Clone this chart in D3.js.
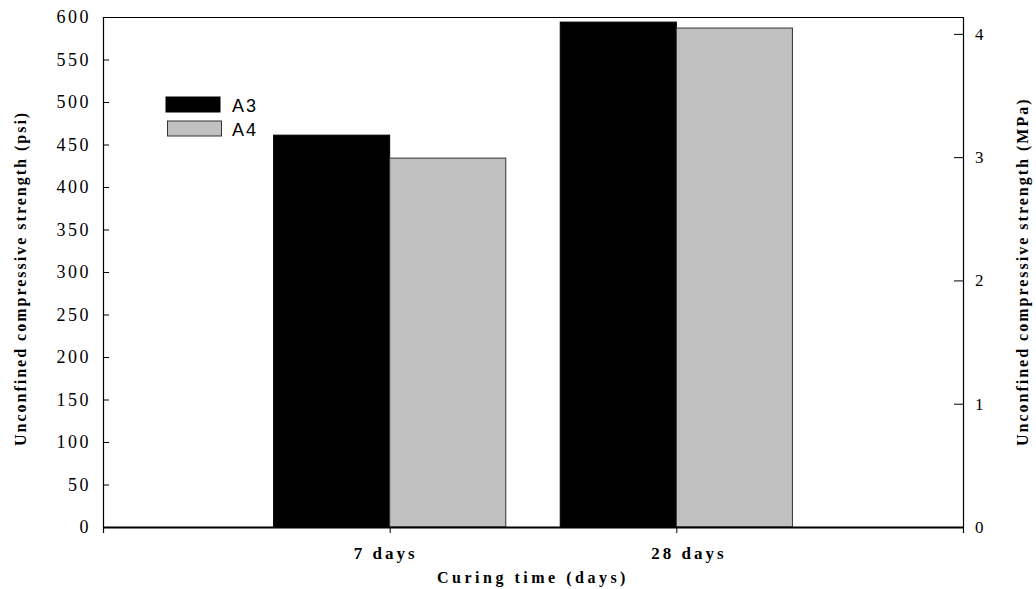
<!DOCTYPE html>
<html><head><meta charset="utf-8">
<script src="https://cdn.jsdelivr.net/npm/d3@7"></script>
<style>body{margin:0;background:#fff}svg{display:block}</style>
</head><body>
<svg id="c" width="1036" height="589"></svg>
<script>
const categories = ["7 days", "28 days"];
const seriesNames = ["A3", "A4"];
const a3Values = [461, 594];
const a4Values = [434, 587];
const psiTicks = [0, 50, 100, 150, 200, 250, 300, 350, 400, 450, 500, 550, 600];
const mpaTicks = [0, 1, 2, 3, 4];
const seriesColors = ["#000000", "#c0c0c0"];

const svg = d3.select("#c");
const L = 103, R = 963, T = 17, B = 527;
const x = d3.scaleLinear().domain([0, categories.length + 1]).range([L, R]);
const y = d3.scaleLinear().domain([0, 600]).range([B, T]);
const y2 = d3.scaleLinear().domain([0, 600 / 145.038]).range([B, T]);
const barW = 0.405;
const labelShift = [-4.5, 12];

// top border
svg.append("line").attr("x1", L).attr("x2", R).attr("y1", T + 0.5).attr("y2", T + 0.5)
  .attr("stroke", "#000").attr("stroke-width", 1);

// bars
const series = [a3Values, a4Values];
series.forEach((vals, s) => {
  svg.append("g").selectAll("rect").data(vals).join("rect")
    .attr("x", (d, i) => s === 0 ? x(i + 1 - barW) : x(i + 1))
    .attr("width", x(barW) - x(0))
    .attr("y", d => y(d))
    .attr("height", d => B - y(d))
    .attr("fill", seriesColors[s])
    .attr("stroke", s === 0 ? "#000" : "#333")
    .attr("stroke-width", 1);
});

// left axis
const gl = svg.append("g").attr("transform", `translate(${L},0)`)
  .call(d3.axisRight(y).tickValues(psiTicks).tickSize(6).tickFormat(d3.format("d")));
gl.select(".domain").remove();
gl.selectAll(".tick line").attr("stroke", "#000");
gl.selectAll(".tick text").attr("x", -12).attr("text-anchor", "end")
  .attr("font-family", "Liberation Serif").attr("font-size", 18)
  .attr("letter-spacing", 2.5).attr("fill", "#000").attr("dy", "0.32em");
svg.append("line").attr("x1", L + 0.5).attr("x2", L + 0.5).attr("y1", T).attr("y2", B + 6)
  .attr("stroke", "#000").attr("stroke-width", 1.2);

// right axis
const gr = svg.append("g").attr("transform", `translate(${R},0)`)
  .call(d3.axisLeft(y2).tickValues(mpaTicks).tickSize(9).tickFormat(d3.format("d")));
gr.select(".domain").remove();
gr.selectAll(".tick line").attr("stroke", "#000");
gr.selectAll(".tick text").attr("x", 12).attr("text-anchor", "start")
  .attr("font-family", "Liberation Serif").attr("font-size", 17).attr("fill", "#000").attr("dy", "0.32em");
svg.append("line").attr("x1", R + 0.5).attr("x2", R + 0.5).attr("y1", T).attr("y2", B + 6)
  .attr("stroke", "#000").attr("stroke-width", 1.2);

// bottom axis
const gb = svg.append("g").attr("transform", `translate(0,${B})`)
  .call(d3.axisBottom(x).tickValues(categories.map((c, i) => i + 1)).tickSize(6)
    .tickFormat((d) => categories[d - 1]));
gb.select(".domain").remove();
gb.selectAll(".tick line").attr("stroke", "#000");
gb.selectAll(".tick text").attr("y", 20).attr("dy", "0.71em").attr("dx", (d, i) => labelShift[i])
  .attr("font-family", "Liberation Serif").attr("font-size", 17).attr("font-weight", "bold")
  .attr("letter-spacing", 3).attr("fill", "#000");
svg.append("line").attr("x1", L).attr("x2", R + 1).attr("y1", B + 0.5).attr("y2", B + 0.5)
  .attr("stroke", "#000").attr("stroke-width", 2);

// axis titles
svg.append("text").attr("x", (L + R) / 2).attr("y", 583).attr("text-anchor", "middle")
  .attr("font-family", "Liberation Serif").attr("font-size", 16).attr("font-weight", "bold")
  .attr("letter-spacing", 3.5).text("Curing time (days)");
svg.append("text").attr("transform", `translate(26,446) rotate(-90)`).attr("text-anchor", "start")
  .attr("font-family", "Liberation Serif").attr("font-size", 16).attr("font-weight", "bold")
  .attr("letter-spacing", 2).text("Unconfined compressive strength (psi)");
svg.append("text").attr("transform", `translate(1028,446) rotate(-90)`).attr("text-anchor", "start")
  .attr("font-family", "Liberation Serif").attr("font-size", 16).attr("font-weight", "bold")
  .attr("letter-spacing", 2).text("Unconfined compressive strength (MPa)");

// legend
const lg = svg.append("g");
seriesNames.forEach((n, i) => {
  lg.append("rect").attr("x", 166 + i * 1.5).attr("y", 97 + i * 24).attr("width", 54).attr("height", 15)
    .attr("fill", seriesColors[i]).attr("stroke", i === 0 ? "#000" : "#333").attr("stroke-width", 1);
  lg.append("text").attr("x", 232).attr("y", 112 + i * 23.5)
    .attr("font-family", "Liberation Sans").attr("font-size", 18).attr("letter-spacing", 2)
    .attr("fill", "#000").text(n);
});
</script>
</body></html>
